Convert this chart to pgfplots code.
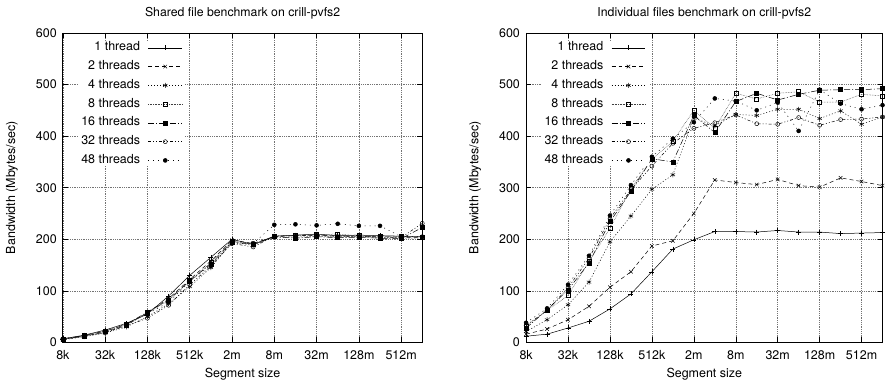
\documentclass[border=0pt]{standalone}
\usepackage{fontspec}
\setmainfont{TeX Gyre Heros}
\usepackage{pgfplots}
\usepackage{pgfplotstable}
\pgfplotsset{compat=1.18}

\pgfplotstableread{
x t1 t2 t4 t8 t16 t32 t48
0 7 6 5 6 7 6 7
1 14 12 11 12 13 12 13
2 24 20 18 21 22 19 22
3 37 33 30 34 35 32 35
4 55 58 50 56 59 47 55
5 90 85 75 82 82 72 78
6 130 122 108 118 120 112 118
7 165 158 145 155 152 148 150
8 200 198 195 197 195 192 192
9 190 192 188 190 190 185 192
10 206 205 204 206 205 206 228
11 208 207 204 208 202 207 229
12 210 208 206 209 205 208 227
13 207 206 204 210 203 205 230
14 208 206 205 207 204 206 226
15 207 205 203 206 202 204 226
16 206 204 202 205 201 203 205
17 205 203 202 204 223 231 205
}\shared

\pgfplotstableread{
x t1 t2 t4 t8 t16 t32 t48
0 12 16 21 32 28 33 38
1 16 26 44 62 63 62 66
2 28 44 73 91 102 106 112
3 41 70 117 157 154 163 168
4 65 107 195 221 234 240 246
5 94 137 245 298 293 296 305
6 137 187 297 355 356 342 360
7 181 197 325 390 350 386 395
8 199 250 435 450 440 415 427
9 215 315 420 415 407 426 473
10 215 310 442 483 467 441 468
11 214 306 440 472 483 424 450
12 217 316 452 483 470 423 465
13 214 304 452 486 481 436 410
14 214 301 434 466 489 421 490
15 211 319 449 466 490 432 463
16 212 312 423 481 490 433 452
17 213 304 437 478 492 437 460
}\indiv

\pgfplotsset{
  gp/.style={
    scale only axis, width=360pt, height=310pt,
    xmin=0, xmax=17, ymin=0, ymax=600,
    xtick={0,2,...,16},
    xticklabels={8k,32k,128k,512k,2m,8m,32m,128m,512m},
    ytick={0,100,...,600},
    tick align=inside, major tick length=5pt,
    grid=major,
    major grid style={black!55, dash pattern=on 0.6pt off 1.2pt, line width=0.5pt},
    axis line style={line width=0.8pt},
    every tick/.style={black, line width=0.5pt},
    font=\fontsize{12.5}{14}\selectfont,
    /pgf/number format/assume math mode=true,
    xticklabel style={anchor=center, inner sep=0pt, yshift=-13pt},
    yticklabel style={anchor=east, inner sep=0pt, xshift=-6pt},
    every axis x label/.style={at={(axis description cs:0.5,0)}, anchor=center, yshift=-32pt},
    every axis y label/.style={at={(axis description cs:0,0.5)}, xshift=-51pt, rotate=90, anchor=center},
    every axis title/.style={at={(axis description cs:0.5,1)}, anchor=center, yshift=20pt, font=\fontsize{12.3}{14}\selectfont},
    xlabel={Segment size}, ylabel={Bandwidth (Mbytes/sec)},
    clip=false,
    legend plot pos=right, legend cell align=right,
    legend style={at={(rel axis cs:0,1)}, anchor=north east, xshift=123pt, yshift=-8.7pt,
      fill=white, draw=none, inner xsep=3pt, inner ysep=0pt,
      row sep=6.8pt, column sep=8pt,
      nodes={inner sep=0pt, text height=9pt, text depth=3pt},
      font=\fontsize{12.5}{14}\selectfont},
    legend image code/.code={\draw[mark repeat=2,mark phase=2,##1] plot coordinates {(0pt,0pt) (17pt,0pt) (34pt,0pt)};},
    every axis plot/.append style={black, line width=0.5pt, mark size=2pt},
  },
  s1/.style={solid, mark=+, mark size=2.5pt},
  s2/.style={dash pattern=on 4pt off 3pt, mark=x, mark size=2.5pt, mark options={solid}},
  s4/.style={dash pattern=on 1pt off 2pt, mark=asterisk, mark size=2.5pt, mark options={solid}},
  s8/.style={dash pattern=on 0.6pt off 1pt, black!75, mark=square, mark options={solid, black}},
  s16/.style={dash pattern=on 6pt off 2pt on 1pt off 2pt, mark=square*, mark options={solid}},
  s32/.style={dash pattern=on 3pt off 2pt on 1pt off 2pt on 1pt off 2pt, mark=o, mark options={solid}},
  s48/.style={dash pattern=on 1pt off 4pt, mark=*, mark options={solid}},
}

\begin{document}
\begin{tikzpicture}
\path (-63pt,-40pt) rectangle (822pt,343pt);
\begin{axis}[gp, at={(0pt,0pt)}, anchor=south west, title={Shared file benchmark on crill-pvfs2}]
\addplot[s1] table[x=x,y=t1]{\shared};
\addplot[s2] table[x=x,y=t2]{\shared};
\addplot[s4] table[x=x,y=t4]{\shared};
\addplot[s8] table[x=x,y=t8]{\shared};
\addplot[s16] table[x=x,y=t16]{\shared};
\addplot[s32] table[x=x,y=t32]{\shared};
\addplot[s48] table[x=x,y=t48]{\shared};
\legend{1 thread,2 threads,4 threads,8 threads,16 threads,32 threads,48 threads}
\end{axis}
\begin{axis}[gp, width=357pt, at={(464pt,0pt)}, anchor=south west, title={Individual files benchmark on crill-pvfs2}]
\addplot[s1] table[x=x,y=t1]{\indiv};
\addplot[s2] table[x=x,y=t2]{\indiv};
\addplot[s4] table[x=x,y=t4]{\indiv};
\addplot[s8] table[x=x,y=t8]{\indiv};
\addplot[s16] table[x=x,y=t16]{\indiv};
\addplot[s32] table[x=x,y=t32]{\indiv};
\addplot[s48] table[x=x,y=t48]{\indiv};
\legend{1 thread,2 threads,4 threads,8 threads,16 threads,32 threads,48 threads}
\end{axis}
\end{tikzpicture}
\end{document}
